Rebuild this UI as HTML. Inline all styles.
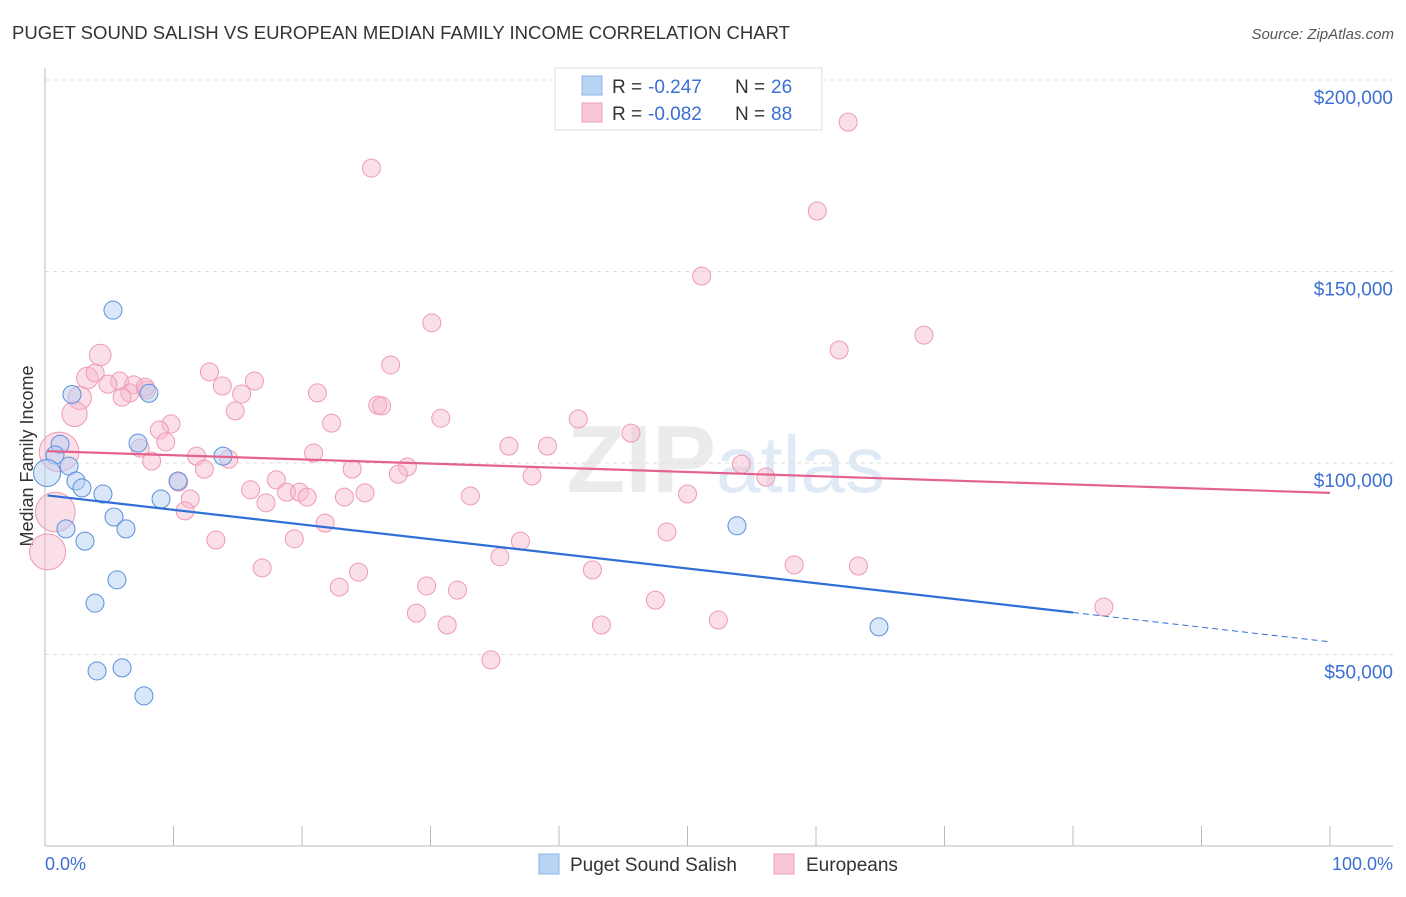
<!DOCTYPE html>
<html><head><meta charset="utf-8"><style>
body{margin:0;background:#fff;font-family:"Liberation Sans",sans-serif;}
svg text{font-family:"Liberation Sans",sans-serif;}
</style></head><body>
<svg id="c" width="1406" height="892" xmlns="http://www.w3.org/2000/svg">
<text x="12" y="39" font-size="18" fill="#333" textLength="778" lengthAdjust="spacingAndGlyphs">PUGET SOUND SALISH VS EUROPEAN MEDIAN FAMILY INCOME CORRELATION CHART</text>
<text x="1394" y="39" font-size="15" fill="#555" text-anchor="end" font-style="italic">Source: ZipAtlas.com</text>
<text x="716" y="492" font-size="96" fill="#ebebeb" text-anchor="end" font-weight="bold" font-family="Liberation Serif">ZIP</text>
<text x="716" y="492" font-size="80" fill="#e0eaf6">atlas</text>
<g id="grid"></g>
<line x1="45" y1="68" x2="45" y2="846" stroke="#bbb"/>
<line x1="45" y1="846" x2="1393" y2="846" stroke="#bbb"/>
<text x="33" y="456" font-size="18" fill="#333" text-anchor="middle" transform="rotate(-90 33 456)">Median Family Income</text>
<text x="45" y="870" font-size="18" fill="#3b6fd4">0.0%</text>
<text x="1393" y="870" font-size="18" fill="#3b6fd4" text-anchor="end">100.0%</text>
<g id="pts"></g>
<g id="trend"></g>
<g>
<rect x="555" y="68" width="267" height="62" fill="#fff" stroke="#ddd"/>
<rect x="582" y="76" width="20" height="19" fill="#b9d3f5" stroke="#8fb3e8"/>
<rect x="582" y="103" width="20" height="19" fill="#f9c6d5" stroke="#eea0b8"/>
<text x="612" y="93" font-size="19" fill="#333">R =</text>
<text x="648" y="93" font-size="19" fill="#3b6fd4">-0.247</text>
<text x="735" y="93" font-size="19" fill="#333">N =</text>
<text x="771" y="93" font-size="19" fill="#3b6fd4">26</text>
<text x="612" y="120" font-size="19" fill="#333">R =</text>
<text x="648" y="120" font-size="19" fill="#3b6fd4">-0.082</text>
<text x="735" y="120" font-size="19" fill="#333">N =</text>
<text x="771" y="120" font-size="19" fill="#3b6fd4">88</text>
</g>
<g><rect x="539" y="854" width="20" height="20" fill="#b9d3f5" stroke="#8fb3e8"/><text x="570" y="871" font-size="19" fill="#333">Puget Sound Salish</text></g>
<g><rect x="774" y="854" width="20" height="20" fill="#f9c6d5" stroke="#eea0b8"/><text x="806" y="871" font-size="19" fill="#333">Europeans</text></g>
</svg>
<script>
const yTicks=[50000,100000,150000,200000];
const yTickLabels=["$50,000","$100,000","$150,000","$200,000"];
const xTicks=[0,10,20,30,40,50,60,70,80,90,100];
const blueX=[5.29,2.10,8.09,1.17,0.78,1.87,7.24,13.85,10.35,2.41,2.88,4.51,9.03,0.16,5.37,6.30,1.63,3.11,5.60,3.89,53.85,64.9,4.05,6.0,7.7];
const blueY=[139.9,117.9,118.2,104.9,102.1,99.2,105.2,101.8,95.3,95.3,93.5,91.9,90.6,97.4,85.9,82.8,82.8,79.6,69.5,63.4,83.6,57.2,45.7,46.5,39.2];
const blueW=[1,1,1,1,1,1,1,1,1,1,1,1,1,1.5,1,1,1,1,1,1,1,1,1,1,1];
const pinkX=[25.4,62.5,60.1,51.1,30.1,68.4,61.8,26.9,4.3,3.3,3.9,5.8,4.9,6.9,7.9,2.7,6.6,6.0,7.8,12.8,13.8,16.3,15.3,21.2,14.8,25.9,26.2,2.3,9.8,8.9,9.4,30.8,41.5,45.6,22.3,36.1,39.1,20.9,7.4,11.8,14.3,8.3,1.1,12.4,23.9,28.2,27.5,54.2,56.1,37.9,10.4,18.0,16.0,18.8,19.8,20.4,17.2,23.3,24.9,33.1,50.0,11.3,10.9,21.8,0.8,48.4,13.3,19.4,37.0,35.4,16.9,24.4,42.6,58.3,63.3,22.9,29.7,32.1,47.5,82.4,28.9,31.3,43.3,52.4,34.7,0.2];
const pinkY=[177.0,189.0,165.8,148.8,136.6,133.4,129.5,125.6,128.2,122.2,123.5,121.4,120.6,120.4,119.1,117.0,118.3,117.2,119.8,123.8,120.1,121.4,118.0,118.3,113.6,115.1,114.9,112.8,110.2,108.6,105.5,111.7,111.5,107.8,110.4,104.4,104.4,102.6,103.9,101.8,101.0,100.5,102.9,98.4,98.4,99.0,97.1,99.7,96.3,96.6,95.0,95.6,93.0,92.4,92.4,91.1,89.6,91.1,92.2,91.4,91.9,90.6,87.5,84.3,87.2,82.0,79.9,80.2,79.6,75.5,72.6,71.5,72.1,73.4,73.1,67.6,67.9,66.8,64.2,62.4,60.8,57.7,57.7,59.0,48.6,76.8];
const pinkW=[1,1,1,1,1,1,1,1,1.2,1.2,1,1,1,1,1,1.3,1,1,1,1,1,1,1,1,1,1,1,1.4,1,1,1,1,1,1,1,1,1,1,1,1,1,1,2.2,1,1,1,1,1,1,1,1,1,1,1,1,1,1,1,1,1,1,1,1,1,2.2,1,1,1,1,1,1,1,1,1,1,1,1,1,1,1,1,1,1,1,1,2.0];
const blueTrend=[91.6,53.3];
const pinkTrend=[103.1,92.2];
const NS="http://www.w3.org/2000/svg";
const xs=p=>45+p*12.85;
const ys=v=>846-v*3.83;
function mk(t,a,parent){const e=document.createElementNS(NS,t);for(const k in a)e.setAttribute(k,a[k]);parent.appendChild(e);return e;}
const grid=document.getElementById('grid');
yTicks.forEach((t,i)=>{
 const l=mk('line',{x1:45,x2:1393,y1:ys(t/1000),y2:ys(t/1000),stroke:'#ddd','stroke-dasharray':'4,4'},grid);
 
 
 const tx=mk('text',{x:1393,y:ys(t/1000)+24,'font-size':19,fill:'#3b6fd4','text-anchor':'end'},grid);
 tx.textContent=yTickLabels[i];
 
 
});
xTicks.forEach(t=>{
 const l=mk('line',{x1:xs(t),x2:xs(t),y1:826,y2:846,stroke:'#bbb'},grid);
 
 
});
const pts=document.getElementById('pts');
pinkX.forEach((x,i)=>{
 const c=mk('circle',{cx:xs(x),cy:ys(pinkY[i]),r:9*pinkW[i],fill:'#f7b8cb','fill-opacity':0.45,stroke:'#ee9ab4','stroke-width':1},pts);
 
 
});
blueX.forEach((x,i)=>{
 const c=mk('circle',{cx:xs(x),cy:ys(blueY[i]),r:9*blueW[i],fill:'#b3cff3','fill-opacity':0.5,stroke:'#5b8fdc','stroke-width':1},pts);
 
 
});
const tr=document.getElementById('trend');
const bAt=p=>blueTrend[0]+(blueTrend[1]-blueTrend[0])*p/100;
let l1=mk('line',{x1:xs(0.2),y1:ys(bAt(0.2)),x2:xs(80),y2:ys(bAt(80)),stroke:'#2f6fd6','stroke-width':2.2},tr);


let l2=mk('line',{x1:xs(80),y1:ys(bAt(80)),x2:xs(100),y2:ys(bAt(100)),stroke:'#2f6fd6','stroke-width':1,'stroke-dasharray':'6,4'},tr);


let l3=mk('line',{x1:xs(0.2),y1:ys(pinkTrend[0]),x2:xs(100),y2:ys(pinkTrend[1]),stroke:'#e4628e','stroke-width':2.2},tr);


</script>
</body></html>
